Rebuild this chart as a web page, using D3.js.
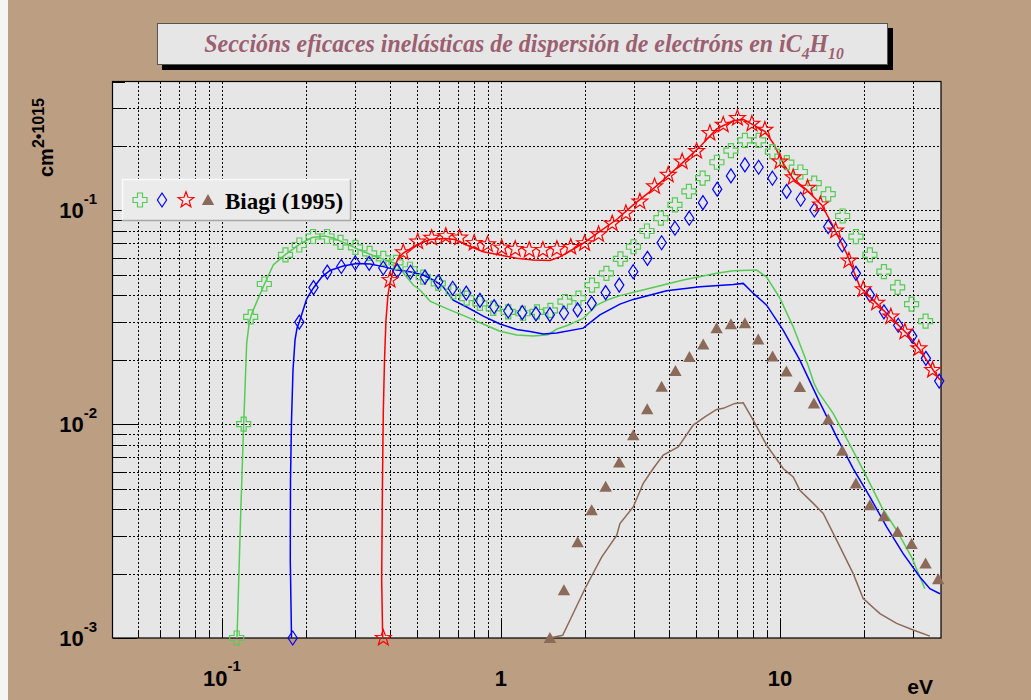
<!DOCTYPE html>
<html><head><meta charset="utf-8">
<script src="https://cdn.jsdelivr.net/npm/d3@7"></script>
<style>html,body{margin:0;padding:0;background:#bc9e82;} svg{display:block}</style>
</head><body>
<svg id="chart" width="1031" height="700"></svg>
<script>
// ---------- data (energy in eV, cross section in units of 1e-15 cm^2) ----------
const greenMarkers = [[0.1129,0.001],[0.1196,0.0100],[0.1267,0.0317],[0.1418,0.0452],[0.1689,0.0618],[0.1893,0.0688],[0.2120,0.0754],[0.2379,0.0754],[0.2659,0.0707],[0.3010,0.0670],[0.3381,0.0629],[0.3786,0.0596],[0.4204,0.0570],[0.4719,0.0530],[0.5266,0.0487],[0.5962,0.0455],[0.6745,0.0416],[0.7536,0.0388],[0.8408,0.0367],[0.9385,0.0348],[1.062,0.0335],[1.199,0.0330],[1.346,0.0335],[1.504,0.0340],[1.696,0.0374],[1.896,0.0388],[2.120,0.0447],[2.388,0.0507],[2.681,0.0592],[2.985,0.0675],[3.337,0.0800],[3.745,0.0918],[4.205,0.1059],[4.719,0.1225],[5.284,0.1412],[5.945,0.1677],[6.674,0.190],[7.491,0.212],[8.388,0.212],[9.40,0.188],[10.59,0.167],[11.84,0.151],[13.27,0.134],[14.90,0.119],[16.78,0.0940],[18.73,0.0753],[21.02,0.0618],[23.60,0.0516],[26.42,0.0436],[29.65,0.0364],[33.28,0.0303]];
const blueMarkers = [[0.1792,0.001],[0.1893,0.0300],[0.2128,0.0435],[0.2385,0.0514],[0.2677,0.0546],[0.3005,0.0567],[0.3370,0.0565],[0.3786,0.0537],[0.4249,0.0521],[0.4739,0.0513],[0.5341,0.0487],[0.5962,0.0463],[0.6713,0.0432],[0.751,0.0410],[0.8408,0.0379],[0.9454,0.0354],[1.062,0.0338],[1.192,0.0332],[1.335,0.0328],[1.498,0.0325],[1.682,0.0331],[1.883,0.0342],[2.114,0.0367],[2.373,0.0412],[2.655,0.0447],[2.980,0.0516],[3.351,0.0596],[3.767,0.0705],[4.205,0.0824],[4.731,0.0918],[5.297,0.1085],[5.960,0.1255],[6.674,0.1447],[7.491,0.1629],[8.388,0.1589],[9.40,0.1412],[10.57,0.1225],[11.87,0.1126],[13.29,0.1003],[14.90,0.0838],[16.73,0.0688],[18.73,0.0507],[21.02,0.0402],[23.60,0.0335],[26.55,0.0290],[29.80,0.0258],[33.37,0.0203],[37.24,0.0159]];
const redMarkers = [[0.3786,0.001],[0.4003,0.0472],[0.4466,0.0635],[0.5032,0.0713],[0.5645,0.0742],[0.6342,0.0758],[0.7112,0.0744],[0.8016,0.0703],[0.8945,0.0692],[1.006,0.0668],[1.125,0.0659],[1.263,0.0652],[1.414,0.0652],[1.587,0.0659],[1.779,0.0673],[1.995,0.0701],[2.239,0.0771],[2.505,0.0866],[2.805,0.0968],[3.148,0.1097],[3.553,0.1292],[3.978,0.1463],[4.463,0.1688],[5.028,0.1890],[5.612,0.2293],[6.265,0.2507],[7.043,0.2695],[7.936,0.2534],[8.835,0.2376],[10.0,0.1688],[11.16,0.1424],[12.57,0.1272],[13.97,0.1064],[15.84,0.0803],[17.68,0.0581],[19.89,0.0427],[22.22,0.0369],[24.99,0.0318],[28.05,0.0270],[31.49,0.0226],[35.26,0.0179]];
const brownMarkers = [[1.498,0.001],[1.682,0.00167],[1.883,0.00280],[2.114,0.00396],[2.373,0.00509],[2.655,0.00662],[2.980,0.00888],[3.345,0.01175],[3.767,0.01494],[4.221,0.0177],[4.739,0.0206],[5.310,0.0236],[5.932,0.0281],[6.674,0.0293],[7.491,0.0296],[8.360,0.0249],[9.415,0.0207],[10.55,0.0176],[11.79,0.0149],[13.24,0.0125],[14.90,0.0105],[16.73,0.0075],[18.73,0.00528],[21.02,0.00418],[23.60,0.00371],[26.42,0.00313],[29.65,0.00275],[33.28,0.00223],[36.93,0.00188]];

const greenLine = [[0.1132,0.001],[0.1167,0.00383],[0.1196,0.0100],[0.1226,0.0239],[0.1253,0.0300],[0.1281,0.0331],[0.1331,0.0372],[0.1420,0.0452],[0.1527,0.0555],[0.1682,0.0618],[0.1904,0.0696],[0.2102,0.0746],[0.2340,0.0758],[0.2499,0.0742],[0.2805,0.0696],[0.3202,0.0641],[0.3685,0.0598],[0.4229,0.0561],[0.4529,0.0498],[0.4851,0.0447],[0.5126,0.0424],[0.5567,0.0376],[0.6392,0.0347],[0.7430,0.0320],[0.8620,0.0294],[0.9917,0.0272],[1.138,0.0261],[1.306,0.0258],[1.474,0.0262],[1.584,0.0278],[1.739,0.0290],[1.972,0.0312],[2.203,0.0360],[2.459,0.0385],[2.670,0.0399],[3.421,0.0432],[4.503,0.0472],[5.932,0.0507],[6.802,0.0521],[8.253,0.0525],[8.960,0.0487],[10.0,0.0388],[11.16,0.0285],[12.60,0.0189],[13.24,0.01556],[13.72,0.01416],[15.52,0.01122],[17.34,0.00857],[19.89,0.00609],[23.15,0.00410],[26.20,0.00319],[29.65,0.00239],[33.09,0.00170]];
const blueLine = [[0.1775,0.001],[0.1757,0.00231],[0.1760,0.00547],[0.1775,0.01044],[0.1797,0.0179],[0.1827,0.0247],[0.1857,0.0281],[0.1893,0.0300],[0.2012,0.0385],[0.2124,0.0432],[0.2277,0.0487],[0.2438,0.0523],[0.2722,0.0549],[0.3040,0.0564],[0.3393,0.0561],[0.3786,0.0545],[0.4229,0.0525],[0.4719,0.0516],[0.5266,0.0498],[0.5801,0.0467],[0.6213,0.0438],[0.6745,0.0380],[0.7536,0.0353],[0.8642,0.0320],[0.9917,0.0294],[1.138,0.0277],[1.271,0.0271],[1.418,0.0264],[1.584,0.0267],[1.972,0.0281],[2.263,0.0324],[2.670,0.0364],[2.980,0.0383],[3.926,0.0420],[5.169,0.0439],[6.802,0.0450],[7.388,0.0455],[8.023,0.0409],[8.960,0.0360],[10.27,0.0275],[11.79,0.0199],[13.72,0.01309],[15.97,0.00872],[18.31,0.00620],[21.02,0.00457],[24.13,0.00331],[27.66,0.00248],[31.76,0.00193],[34.49,0.00170],[37.46,0.00161]];
const redLine = [[0.3767,0.001],[0.3736,0.00186],[0.3761,0.00547],[0.3786,0.01126],[0.3824,0.0199],[0.3871,0.0307],[0.3936,0.0402],[0.4003,0.0457],[0.4111,0.0525],[0.4284,0.0598],[0.4466,0.0631],[0.4986,0.0688],[0.5567,0.0730],[0.6301,0.0738],[0.6842,0.0730],[0.7536,0.0688],[0.8642,0.0640],[0.9917,0.0618],[1.138,0.0596],[1.306,0.0585],[1.498,0.0583],[1.627,0.0605],[1.972,0.0701],[2.263,0.0796],[2.599,0.0905],[2.980,0.1059],[3.421,0.1222],[3.926,0.143],[4.503,0.168],[5.169,0.198],[5.932,0.240],[6.802,0.262],[7.388,0.266],[8.023,0.2507],[8.835,0.2338],[9.463,0.2058],[10.27,0.1660],[11.16,0.1401],[12.47,0.1245],[14.11,0.1059],[15.32,0.0869],[17.34,0.0629],[19.35,0.0439],[21.60,0.0380],[25.48,0.0307],[28.46,0.0266],[31.76,0.0222],[35.44,0.0179],[37.46,0.0161]];
const brownLine = [[1.498,0.001],[1.664,0.00103],[1.767,0.00121],[2.000,0.00170],[2.296,0.00239],[2.599,0.00302],[2.670,0.00343],[2.980,0.00410],[3.236,0.00528],[3.515,0.00620],[3.817,0.00716],[4.320,0.00783],[4.889,0.00989],[5.384,0.01082],[5.932,0.01172],[6.265,0.01185],[6.899,0.01250],[7.388,0.01258],[8.023,0.01044],[8.960,0.00797],[10.27,0.00620],[11.16,0.00566],[11.79,0.00491],[13.17,0.00426],[14.30,0.00382],[15.97,0.00287],[18.31,0.00200],[19.89,0.00153],[22.83,0.00130],[26.20,0.00117],[30.05,0.00109],[34.49,0.00102]];

const xDomain = [0.0405, 37.8];
const yDomain = [0.001, 0.4];
const xMajorTicks = [0.1, 1, 10];
const yMajorTicks = [0.001, 0.01, 0.1];
const xTickLabels = [[0.1,"10","-1"],[1,"1",""],[10,"10",""]];
const yTickLabels = [[0.001,"10","-3"],[0.01,"10","-2"],[0.1,"10","-1"]];
const xAxisTitle = "eV";
const yAxisTitle = ["cm","2\u20221015"];
const titleParts = [["Secci\u00f3ns eficaces inel\u00e1sticas de dispersi\u00f3n de electr\u00f3ns en iC",0],["4",1],["H",0],["10",1]];
const legendLabel = "Biagi (1995)";

// ---------- drawing ----------
const svg = d3.select("#chart");
const F = {left:112.5, right:941, top:81.5, bottom:638};
const x = d3.scaleLog().domain(xDomain).range([F.left, F.right]);
const y = d3.scaleLog().domain(yDomain).range([F.bottom, F.top]);

svg.append("rect").attr("width",1031).attr("height",700).attr("fill","#bc9e82");
svg.append("rect").attr("x",0).attr("y",0).attr("width",8).attr("height",700).attr("fill","#f4f4f4");

// title box
svg.append("rect").attr("x",162).attr("y",28).attr("width",731).attr("height",42).attr("fill","#000");
svg.append("rect").attr("x",157.5).attr("y",23.5).attr("width",730).attr("height",41).attr("fill","#e6e6e6").attr("stroke","#555").attr("stroke-width",1);
const tt = svg.append("text").attr("x",524).attr("y",52).attr("text-anchor","middle")
  .attr("font-family","'Liberation Serif','Times New Roman',serif").attr("font-weight","bold").attr("font-style","italic")
  .attr("fill","#9b5f70").attr("font-size",26);
let prevSub = 0;
titleParts.forEach(([t,sub])=>{
  const ts = tt.append("tspan").text(t).attr("font-size", sub?17:26);
  const dy = (sub?7:0) - (prevSub?7:0);
  if (dy) ts.attr("dy", dy);
  prevSub = sub;
});
{
  const w = tt.node().getBBox().width;
  const sx = 640 / w;
  tt.attr("transform", `translate(524,0) scale(${sx},1) translate(-524,0)`);
}

// frame
svg.append("rect").attr("x",F.left).attr("y",F.top).attr("width",F.right-F.left).attr("height",F.bottom-F.top).attr("fill","#e6e6e6");

// grid
const xt = x.ticks().filter(v=>x(v)>F.left+1 && x(v)<F.right-1);
const yt = y.ticks().filter(v=>y(v)<F.bottom-1 && y(v)>F.top+1);
const grid = svg.append("g").attr("stroke","#000").attr("stroke-width",1).attr("stroke-dasharray","2,2").attr("shape-rendering","crispEdges");
grid.selectAll("line.gx").data(xt).join("line").attr("x1",d=>Math.round(x(d))+0.5).attr("x2",d=>Math.round(x(d))+0.5).attr("y1",F.top).attr("y2",F.bottom);
grid.selectAll("line.gy").data(yt).join("line").attr("y1",d=>Math.round(y(d))+0.5).attr("y2",d=>Math.round(y(d))+0.5).attr("x1",F.left).attr("x2",F.right);

// ticks
const isMajor = (arr,v)=>arr.some(m=>Math.abs(m-v)/m<1e-6);
const tk = svg.append("g").attr("stroke","#000").attr("stroke-width",1).attr("shape-rendering","crispEdges");
tk.selectAll("line.tx").data(x.ticks().filter(v=>x(v)>=F.left && x(v)<=F.right)).join("line")
  .attr("x1",d=>Math.round(x(d))+0.5).attr("x2",d=>Math.round(x(d))+0.5)
  .attr("y1",F.bottom).attr("y2",d=>F.bottom-(isMajor(xMajorTicks,d)?18:8));
tk.selectAll("line.ty").data(y.ticks().filter(v=>y(v)<=F.bottom+0.5 && y(v)>=F.top)).join("line")
  .attr("y1",d=>Math.round(y(d))+0.5).attr("y2",d=>Math.round(y(d))+0.5)
  .attr("x1",F.left).attr("x2",d=>F.left+(isMajor(yMajorTicks,d)?24:12));

// frame border
svg.append("rect").attr("x",F.left).attr("y",F.top).attr("width",F.right-F.left).attr("height",F.bottom-F.top).attr("fill","none").attr("stroke","#000").attr("stroke-width",1.2);

// tick labels
const sans = "'Liberation Sans',Arial,Helvetica,sans-serif";
yTickLabels.forEach(([v,b,e])=>{
  const t = svg.append("text").attr("x",97).attr("y",y(v)+7.5).attr("text-anchor","end")
    .attr("font-family",sans).attr("font-weight","bold").attr("font-size",22).attr("fill","#000");
  t.append("tspan").text(b);
  t.append("tspan").text(e).attr("font-size",15).attr("dy",-14);
});
xTickLabels.forEach(([v,b,e])=>{
  const t = svg.append("text").attr("x",x(v)).attr("y",686).attr("text-anchor","middle")
    .attr("font-family",sans).attr("font-weight","bold").attr("font-size",22).attr("fill","#000");
  t.append("tspan").text(b);
  if (e) t.append("tspan").text(e).attr("font-size",15).attr("dy",-15);
});
svg.append("text").attr("x",933).attr("y",694).attr("text-anchor","end").attr("font-family",sans)
  .attr("font-weight","bold").attr("font-size",21).attr("fill","#000").text(xAxisTitle);
{
  const t = svg.append("text").attr("transform","translate(53,177) rotate(-90)").attr("font-family",sans)
    .attr("font-weight","bold").attr("font-size",20).attr("fill","#000");
  t.append("tspan").text(yAxisTitle[0]);
  t.append("tspan").text(yAxisTitle[1]).attr("font-size",16).attr("dy",-9);
}

// clip for lines
svg.append("clipPath").attr("id","fr").append("rect").attr("x",F.left).attr("y",F.top).attr("width",F.right-F.left).attr("height",F.bottom-F.top);
const line = d3.line().x(d=>x(d[0])).y(d=>y(d[1]));
const colors = {green:"#55cc55", blue:"#0000ff", red:"#ff0000", brown:"#8c6a5a"};
const lg = svg.append("g").attr("clip-path","url(#fr)").attr("fill","none").attr("stroke-width",1.5);
[[greenLine,colors.green],[blueLine,colors.blue],[redLine,colors.red],[brownLine,colors.brown]].forEach(([d,c])=>{
  lg.append("path").datum(d).attr("d",line).attr("stroke",c);
});

// marker shapes
const crossPath = "M-2.5,-7H2.5V-2.5H7V2.5H2.5V7H-2.5V2.5H-7V-2.5H-2.5Z";
const diamondPath = "M0,-7L4.6,0L0,7L-4.6,0Z";
const starPath = (()=>{const p=[];for(let i=0;i<10;i++){const r=i%2?3.4:8.3;const a=-Math.PI/2+i*Math.PI/5;p.push([r*Math.cos(a),r*Math.sin(a)]);}return "M"+p.map(q=>q[0].toFixed(2)+","+q[1].toFixed(2)).join("L")+"Z";})();
const triPath = "M0,-6L6.2,5L-6.2,5Z";

function markers(data, path, color, filled){
  svg.append("g").selectAll("path").data(data).join("path")
    .attr("transform",d=>`translate(${x(d[0])},${y(d[1])})`)
    .attr("d",path)
    .attr("fill",filled?color:"none").attr("stroke",filled?"none":color).attr("stroke-width",1.2);
}
markers(greenMarkers, crossPath, colors.green, false);
markers(blueMarkers, diamondPath, colors.blue, false);
markers(redMarkers, starPath, colors.red, false);
markers(brownMarkers, triPath, colors.brown, true);

// legend
const L = {x:122.5, y:179.5, w:228, h:41};
svg.append("rect").attr("x",L.x).attr("y",L.y).attr("width",L.w).attr("height",L.h).attr("fill","#ebebeb");
svg.append("path").attr("d",`M${L.x},${L.y+L.h}V${L.y}H${L.x+L.w}`).attr("stroke","#fafafa").attr("fill","none").attr("stroke-width",1.5);
svg.append("path").attr("d",`M${L.x+L.w},${L.y}V${L.y+L.h}H${L.x}`).attr("stroke","#a8a8a8").attr("fill","none").attr("stroke-width",1.5);
const ly = L.y + 20.5;
[[crossPath,colors.green,false,140],[diamondPath,colors.blue,false,162],[starPath,colors.red,false,186],[triPath,colors.brown,true,208]].forEach(([p,c,f,lx])=>{
  svg.append("path").attr("transform",`translate(${lx},${ly})`).attr("d",p)
    .attr("fill",f?c:"none").attr("stroke",f?"none":c).attr("stroke-width",1.2);
});
svg.append("text").attr("x",225).attr("y",208.5).attr("font-family","'Liberation Serif','Times New Roman',serif")
  .attr("font-weight","bold").attr("font-size",23).attr("fill","#000").text(legendLabel);
</script>
</body></html>
